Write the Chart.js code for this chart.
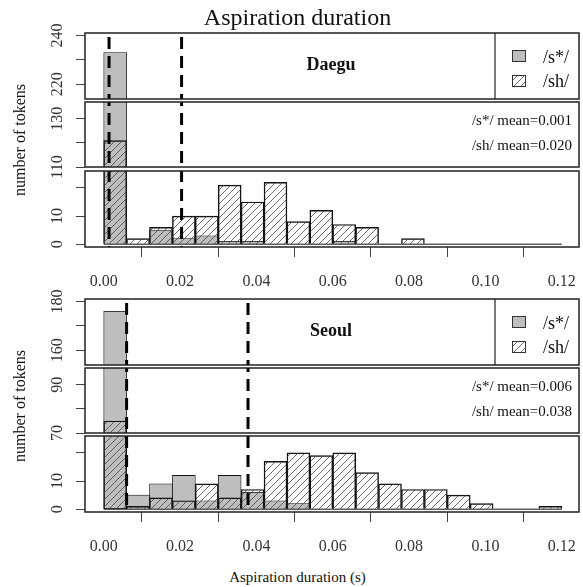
<!DOCTYPE html>
<html>
<head>
<meta charset="utf-8">
<title>Aspiration duration</title>
<script src="https://cdn.jsdelivr.net/npm/chart.js@4.4.1/dist/chart.umd.min.js"></script>
<style>
  body { margin: 0; background: #fff; }
  #fig { position: relative; width: 583px; height: 587px; overflow: hidden;
         font-family: "Liberation Serif", "Times New Roman", serif; color: #111; }
  #fig canvas { position: absolute; left: 0; }
  .txt { position: absolute; white-space: nowrap; line-height: 1; }
</style>
</head>
<body>
<div id="fig"></div>
<script>
// Histogram bins (s), 0.006 wide, from 0 to 0.12
const binStarts = [0.000, 0.006, 0.012, 0.018, 0.024, 0.030, 0.036, 0.042, 0.048, 0.054,
                   0.060, 0.066, 0.072, 0.078, 0.084, 0.090, 0.096, 0.102, 0.108, 0.114];
const binWidth = 0.006;

// Counts per bin
const daeguSs = [233, 0, 5, 2, 3, 1, 1, 0, 0, 0, 1, 0, 0, 0, 0, 0, 0, 0, 0, 0];
const daeguSh = [121, 2, 6, 10, 10, 21, 15, 22, 8, 12, 7, 6, 0, 2, 0, 0, 0, 0, 0, 0];
const seoulSs = [176, 5, 9, 12, 3, 12, 6, 3, 2, 0, 0, 0, 0, 0, 0, 0, 0, 0, 0, 0];
const seoulSh = [75, 1, 4, 3, 9, 4, 7, 17, 20, 19, 20, 13, 9, 7, 7, 5, 2, 0, 0, 1];

// Means (s*, sh)
const daeguMeans = [0.0014, 0.0204];
const seoulMeans = [0.0060, 0.0378];

const seriesLabels = ["/s*/", "/sh/"];
const cityNames = ["Daegu", "Seoul"];

const xTicks = [0, 0.02, 0.04, 0.06, 0.08, 0.10, 0.12];
const xRange = [-0.0049, 0.1245];

// Broken y axis: top, middle and bottom pieces
const daeguYRanges = [[214, 241], [110, 137], [-1, 26]];
const seoulYRanges = [[154, 181], [70, 97], [-1, 26]];
const daeguYTicks = [[220, 230, 240], [110, 120, 130], [0, 10, 20]];
const seoulYTicks = [[160, 170, 180], [70, 80, 90], [0, 10, 20]];
const daeguYLabels = [[220, 240], [110, 130], [0, 10]];
const seoulYLabels = [[160, 180], [70, 90], [0, 10]];

// Page layout of the sub-panels (top, bottom in px)
const daeguBoxes = [[33, 99], [102, 167], [171, 247]];
const seoulBoxes = [[299, 365], [368, 433], [436, 512]];

const fig = document.getElementById("fig");
const PAD = 14;
const XAXIS_H = 48;
const SS_COLOR = "#bebebe";

function makeHatch(ctx) {
    const c = document.createElement("canvas");
    c.width = 7;
    c.height = 7;
    const g = c.getContext("2d");
    g.strokeStyle = "#444";
    g.lineWidth = 0.8;
    g.beginPath();
    g.moveTo(0, 7); g.lineTo(7, 0);
    g.moveTo(-1, 1); g.lineTo(1, -1);
    g.moveTo(6, 8); g.lineTo(8, 6);
    g.stroke();
    return ctx.createPattern(c, "repeat");
}

function toPoints(values) {
    return values.map((v, i) => ({ x: binStarts[i] + binWidth / 2, y: v }));
}

// Draws mean lines, panel box, legend swatches and rotated y tick labels
const panelPlugin = {
    id: "panel",
    afterDatasetsDraw(chart, args, opts) {
        const ctx = chart.ctx;
        const a = chart.chartArea;
        const xs = chart.scales.x;
        const ys = chart.scales.y;

        ctx.save();
        ctx.beginPath();
        ctx.rect(a.left, a.top, a.right - a.left, a.bottom - a.top);
        ctx.clip();
        ctx.strokeStyle = "#000";
        ctx.lineWidth = 3;
        ctx.setLineDash([12, 7]);
        ctx.lineDashOffset = opts.canvasTop + a.top - opts.dashStart;
        opts.means.forEach((m) => {
            const px = xs.getPixelForValue(m);
            ctx.beginPath();
            ctx.moveTo(px, a.top);
            ctx.lineTo(px, a.bottom);
            ctx.stroke();
        });
        ctx.restore();

        ctx.save();
        ctx.strokeStyle = "#222";
        ctx.lineWidth = 1.5;
        ctx.strokeRect(a.left, a.top, a.right - a.left, a.bottom - a.top);

        if (opts.legend) {
            ctx.lineWidth = 1.2;
            ctx.beginPath();
            ctx.moveTo(495, a.top);
            ctx.lineTo(495, a.bottom);
            ctx.stroke();
            const sets = chart.data.datasets;
            const swatches = [sets[1].backgroundColor, sets[0].backgroundColor];
            swatches.forEach((fill, i) => {
                const y = a.top + 17 + i * 25;
                ctx.fillStyle = fill;
                ctx.fillRect(512, y, 14, 12);
                ctx.lineWidth = 1;
                ctx.strokeStyle = "#333";
                ctx.strokeRect(512.5, y + 0.5, 13, 11);
            });
        }

        ctx.fillStyle = "#333";
        ctx.font = '16px "Liberation Serif"';
        ctx.textAlign = "center";
        ctx.textBaseline = "middle";
        opts.labels.forEach((v) => {
            ctx.save();
            ctx.translate(57, ys.getPixelForValue(v));
            ctx.rotate(-Math.PI / 2);
            ctx.fillText(String(v), 0, 1);
            ctx.restore();
        });
        ctx.restore();
    },
};

function buildPanel(box, k, ss, sh, means, yRange, yTicks, yLabels, dashStart) {
    const isBottom = k === 2;
    const canvasTop = box[0] - PAD;
    const h = (box[1] - box[0]) + PAD + (isBottom ? XAXIS_H : PAD);
    const cv = document.createElement("canvas");
    cv.width = 583;
    cv.height = h;
    cv.style.top = canvasTop + "px";
    fig.appendChild(cv);
    const ctx = cv.getContext("2d");

    new Chart(ctx, {
        type: "bar",
        data: {
            datasets: [
                {
                    label: seriesLabels[1],
                    data: toPoints(sh),
                    backgroundColor: makeHatch(ctx),
                    borderColor: "#111",
                    borderWidth: 0.8,
                    order: 1,
                    clip: 0,
                },
                {
                    label: seriesLabels[0],
                    data: toPoints(ss),
                    backgroundColor: SS_COLOR,
                    borderColor: "#111",
                    borderWidth: 0.8,
                    order: 2,
                    clip: 0,
                },
                {
                    type: "line",
                    label: "zero",
                    data: [
                        { x: binStarts[0], y: 0 },
                        { x: binStarts[binStarts.length - 1] + binWidth, y: 0 },
                    ],
                    borderColor: "#111",
                    borderWidth: 1,
                    pointRadius: 0,
                    order: 0,
                    clip: 0,
                },
            ],
        },
        options: {
            responsive: false,
            animation: false,
            devicePixelRatio: 1,
            events: [],
            layout: { padding: { left: 0, right: 4, top: PAD, bottom: isBottom ? 0 : PAD } },
            datasets: { bar: { barPercentage: 1, categoryPercentage: 1, grouped: false } },
            plugins: {
                legend: { display: false },
                tooltip: { enabled: false },
                panel: {
                    means: means,
                    labels: yLabels,
                    legend: k === 0,
                    canvasTop: canvasTop,
                    dashStart: dashStart,
                },
            },
            scales: {
                x: {
                    type: "linear",
                    min: xRange[0],
                    max: xRange[1],
                    offset: false,
                    display: isBottom,
                    afterBuildTicks: (s) => { s.ticks = xTicks.map((v) => ({ value: v })); },
                    afterFit: (s) => {
                        s.height = isBottom ? XAXIS_H : 0;
                        s.paddingLeft = 0;
                        s.paddingRight = 0;
                    },
                    grid: { drawOnChartArea: false, drawTicks: true, tickLength: 10, color: "#444" },
                    border: { display: false },
                    ticks: {
                        autoSkip: false,
                        maxRotation: 0,
                        padding: 15,
                        color: "#333",
                        font: { family: "Liberation Serif", size: 16 },
                        callback: (v) => Number(v).toFixed(2),
                    },
                },
                y: {
                    min: yRange[0],
                    max: yRange[1],
                    afterBuildTicks: (s) => { s.ticks = yTicks.map((v) => ({ value: v })); },
                    afterFit: (s) => { s.width = 85; },
                    grid: { drawOnChartArea: false, drawTicks: true, tickLength: 9, color: "#444" },
                    border: { display: false },
                    ticks: { display: false },
                },
            },
        },
        plugins: [panelPlugin],
    });
}

function addText(text, x, y, size, align, extra) {
    const d = document.createElement("div");
    d.className = "txt";
    d.textContent = text;
    d.style.left = x + "px";
    d.style.top = y + "px";
    d.style.fontSize = size + "px";
    let tx = "-50%";
    if (align === "left") tx = "0";
    if (align === "right") tx = "-100%";
    d.style.transform = "translate(" + tx + ",-50%)" + (extra && extra.rotate ? " rotate(-90deg)" : "");
    if (extra && extra.bold) d.style.fontWeight = "bold";
    fig.appendChild(d);
}

function buildCity(name, boxes, ss, sh, means, ranges, ticks, labels) {
    const dashStart = boxes[0][0] + 4;
    for (let k = 0; k < 3; k++) {
        buildPanel(boxes[k], k, ss, sh, means, ranges[k], ticks[k], labels[k], dashStart);
    }
    const top = boxes[0][0];
    const mid = boxes[1][0];
    addText(name, 331, top + 31, 18, "center", { bold: true });
    addText(seriesLabels[0], 543, top + 24, 18, "left");
    addText(seriesLabels[1], 543, top + 48, 18, "left");
    addText(seriesLabels[0] + " mean=" + means[0].toFixed(3), 572, mid + 18, 15, "right");
    addText(seriesLabels[1] + " mean=" + means[1].toFixed(3), 572, mid + 43, 15, "right");
    addText("number of tokens", 20, (boxes[0][0] + boxes[2][1]) / 2, 16, "center", { rotate: true });
}

buildCity(cityNames[0], daeguBoxes, daeguSs, daeguSh, daeguMeans, daeguYRanges, daeguYTicks, daeguYLabels);
buildCity(cityNames[1], seoulBoxes, seoulSs, seoulSh, seoulMeans, seoulYRanges, seoulYTicks, seoulYLabels);

addText("Aspiration duration", 297.5, 17, 24, "center");
addText("Aspiration duration (s)", 297.5, 577, 15, "center");
</script>
</body>
</html>
